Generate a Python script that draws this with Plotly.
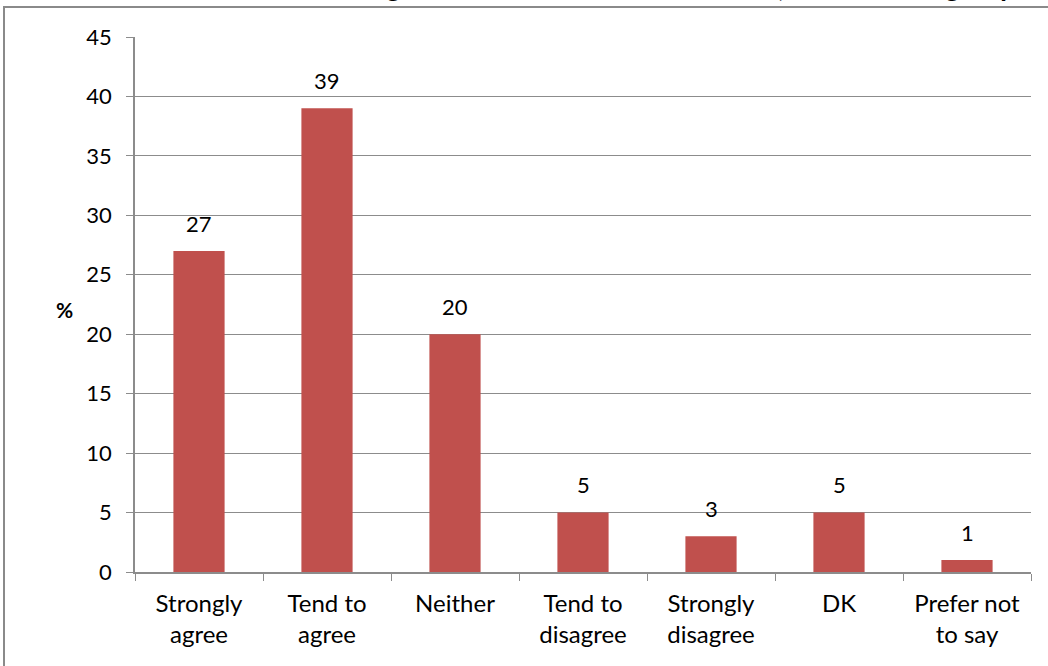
import plotly.graph_objects as go

categories = ["Strongly<br>agree", "Tend to<br>agree", "Neither", "Tend to<br>disagree",
              "Strongly<br>disagree", "DK", "Prefer not<br>to say"]
values = [27, 39, 20, 5, 3, 5, 1]
y_ticks = [0, 5, 10, 15, 20, 25, 30, 35, 40, 45]
title_text = "Level of agreement with the council's aims, in the whole group"

FONT = "Lato"
GRID = "#8c8c8c"

fig = go.Figure()
fig.add_trace(go.Bar(x=categories, y=values, marker=dict(color="#C0504D", line=dict(width=0)),
                     width=0.4, hoverinfo="x+y"))

for c, v in zip(categories, values):
    fig.add_annotation(x=c, y=v, text=str(v), showarrow=False, yshift=28,
                       font=dict(family=FONT, size=22, color="black"))

fig.add_annotation(xref="paper", yref="paper", x=-0.09, y=0.49, text="<b>%</b>",
                   showarrow=False, font=dict(family=FONT, size=21, color="black"))

fig.add_annotation(xref="paper", yref="paper", x=0.985, y=1.0595, xanchor="right", yanchor="bottom",
                   text="<b>" + title_text + "</b>",
                   showarrow=False, font=dict(family=FONT, size=27, color="black"))

fig.add_shape(type="rect", xref="paper", yref="paper", x0=-0.1462, x1=1.05, y0=-0.3, y1=1.056,
              line=dict(color="#8a8a8a", width=2), fillcolor="rgba(0,0,0,0)", layer="below")

fig.update_layout(
    width=1048, height=666,
    margin=dict(l=135, r=17, t=37, b=94),
    paper_bgcolor="white", plot_bgcolor="white",
    showlegend=False,
    bargap=0.6,
    font=dict(family=FONT, size=22, color="black"),
    xaxis=dict(type="category", showline=True, linecolor=GRID, linewidth=1.5,
               ticks="outside", tickson="boundaries", ticklen=7, tickcolor=GRID,
               ticklabelstandoff=9,
               tickfont=dict(family=FONT, size=24, color="black"), showgrid=False),
    yaxis=dict(range=[0, 45], tickvals=y_ticks, showline=True, linecolor=GRID, linewidth=1.5,
               ticks="outside", ticklen=7, tickcolor=GRID, gridcolor=GRID, gridwidth=1,
               ticklabelstandoff=10,
               tickfont=dict(family=FONT, size=22, color="black"), zeroline=False),
)

fig.write_html("out.html", config={"displayModeBar": False},
               post_script="document.body.style.margin='0';document.body.style.overflow='hidden';")
